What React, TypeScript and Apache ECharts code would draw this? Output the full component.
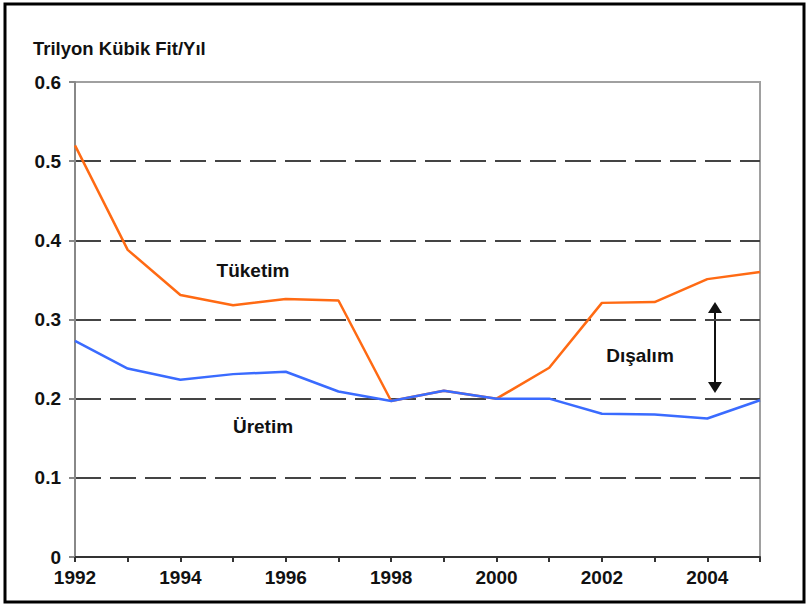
import React, { useEffect, useRef } from "react";
import * as echarts from "echarts";

const years = [1992, 1993, 1994, 1995, 1996, 1997, 1998, 1999, 2000, 2001, 2002, 2003, 2004, 2005];
const consumption = [0.52, 0.388, 0.331, 0.318, 0.326, 0.324, 0.197, 0.21, 0.2, 0.239, 0.321, 0.322, 0.351, 0.36];
const production = [0.273, 0.238, 0.224, 0.231, 0.234, 0.209, 0.197, 0.21, 0.2, 0.2, 0.181, 0.18, 0.175, 0.198];
const yTicks = [0, 0.1, 0.2, 0.3, 0.4, 0.5, 0.6];
const unitLabel = "Trilyon Kübik Fit/Yıl";
const seriesLabels = ["Tüketim", "Üretim", "Dışalım"];

const FONT = "'Liberation Sans', Arial, sans-serif";

export default function App() {
  const ref = useRef<HTMLDivElement>(null);
  useEffect(() => {
    document.body.style.margin = "0";
    if (!ref.current) return;
    const chart = echarts.init(ref.current, null, { renderer: "svg" });
    const textStyle = (x: number, y: number, text: string) => ({
      type: "text",
      x,
      y,
      style: {
        text,
        font: `bold 19px ${FONT}`,
        fill: "#111",
        align: "center",
        verticalAlign: "middle",
      },
    });
    chart.setOption({
      animation: false,
      backgroundColor: "#fff",
      grid: {
        left: 75,
        right: 48,
        top: 82,
        bottom: 48,
        show: true,
        borderColor: "#a0a0a0",
        borderWidth: 2,
      },
      xAxis: {
        type: "value",
        min: years[0],
        max: years[years.length - 1],
        interval: 1,
        axisLine: { show: true, lineStyle: { color: "#333", width: 2 } },
        axisTick: { show: true, length: 5, lineStyle: { color: "#333", width: 2 } },
        splitLine: { show: false },
        axisLabel: {
          color: "#111",
          fontFamily: FONT,
          fontWeight: "bold",
          fontSize: 19,
          margin: 11,
          formatter: (v: number) => (v % 2 === 0 ? String(v) : ""),
        },
      },
      yAxis: {
        type: "value",
        min: yTicks[0],
        max: yTicks[yTicks.length - 1],
        interval: 0.1,
        axisLine: { show: true, lineStyle: { color: "#888", width: 2 } },
        axisTick: { show: true, length: 6, lineStyle: { color: "#888", width: 2 } },
        splitLine: {
          show: true,
          showMinLine: false,
          showMaxLine: false,
          lineStyle: { color: "#444", width: 2, type: [26, 9] },
        },
        axisLabel: {
          color: "#111",
          fontFamily: FONT,
          fontWeight: "bold",
          fontSize: 19,
          margin: 14,
          formatter: (v: number) => (v === 0 ? "0" : v.toFixed(1)),
        },
      },
      series: [
        {
          name: seriesLabels[0],
          type: "line",
          data: years.map((y, i) => [y, consumption[i]]),
          showSymbol: false,
          lineStyle: { color: "#ff6a13", width: 2.5 },
          z: 2,
        },
        {
          name: seriesLabels[1],
          type: "line",
          data: years.map((y, i) => [y, production[i]]),
          showSymbol: false,
          lineStyle: { color: "#3a6bff", width: 2.5 },
          z: 3,
        },
      ],
      graphic: [
        {
          type: "rect",
          shape: { x: 5, y: 4, width: 799, height: 598 },
          style: { fill: "none", stroke: "#000", lineWidth: 3 },
          z: 10,
        },
        {
          type: "text",
          x: 33,
          y: 48,
          style: {
            text: unitLabel,
            font: `bold 18.5px ${FONT}`,
            fill: "#111",
            align: "left",
            verticalAlign: "middle",
          },
        },
        textStyle(253, 270, seriesLabels[0]),
        textStyle(263, 426, seriesLabels[1]),
        textStyle(640, 355, seriesLabels[2]),
        {
          type: "line",
          shape: { x1: 715, y1: 310, x2: 715, y2: 385 },
          style: { stroke: "#111", lineWidth: 2 },
        },
        {
          type: "polygon",
          shape: { points: [[715, 302], [708, 313], [722, 313]] },
          style: { fill: "#111" },
        },
        {
          type: "polygon",
          shape: { points: [[715, 393], [708, 382], [722, 382]] },
          style: { fill: "#111" },
        },
      ],
    });
    return () => chart.dispose();
  }, []);
  return <div ref={ref} style={{ width: 808, height: 605 }} />;
}
